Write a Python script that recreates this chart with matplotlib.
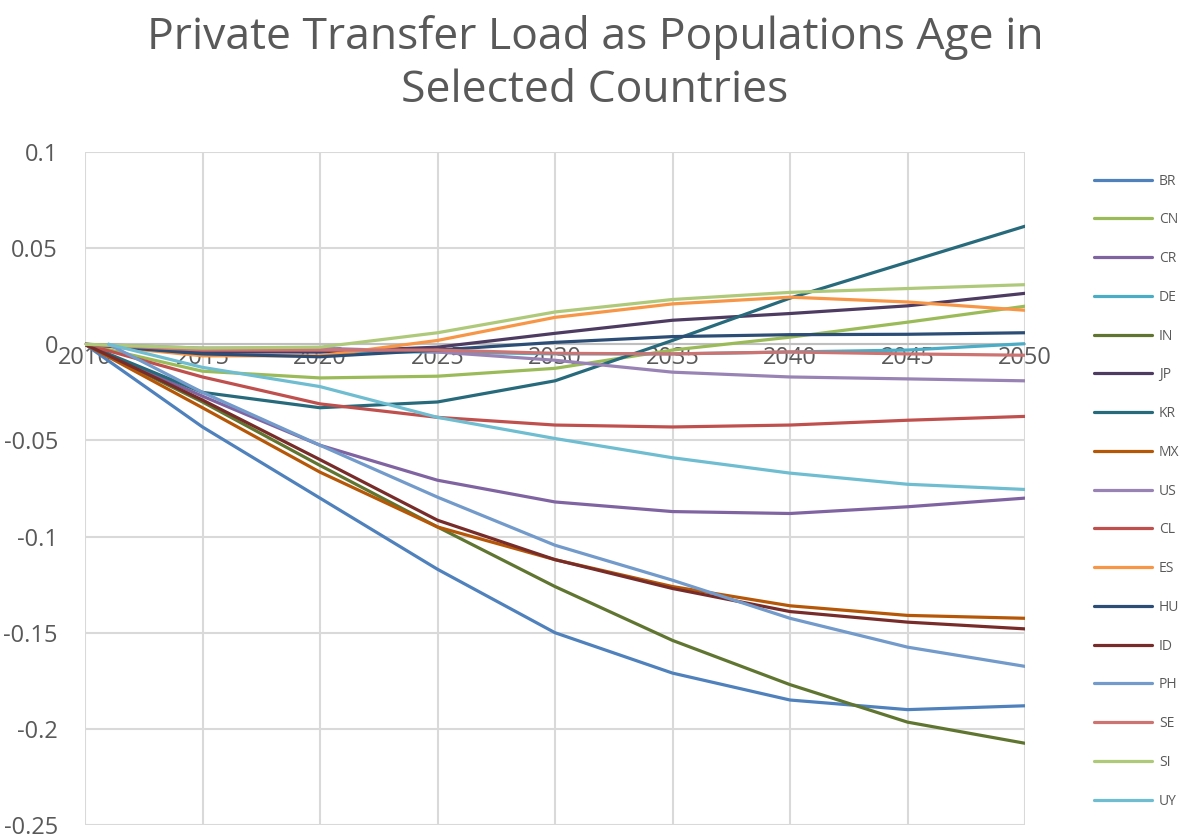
import numpy as np
import matplotlib
matplotlib.use("Agg")
import matplotlib.pyplot as plt

years = [2010, 2011, 2015, 2020, 2025, 2030, 2035, 2040, 2045, 2050]
nan = np.nan

countries = ["BR", "CN", "CR", "DE", "IN", "JP", "KR", "MX", "US",
             "CL", "ES", "HU", "ID", "PH", "SE", "SI", "UY"]

BR = [0, nan, -0.043, -0.080, -0.117, -0.150, -0.171, -0.185, -0.190, -0.188]
CN = [0, nan, -0.014, -0.0175, -0.0166, -0.0125, -0.003, 0.0037, 0.0115, 0.0198]
CR = [0, nan, -0.027, -0.0525, -0.0707, -0.082, -0.087, -0.088, -0.0845, -0.080]
DE = [0, nan, -0.003, -0.004, -0.004, -0.005, -0.005, -0.004, -0.003, 0.0003]
IN = [0, nan, -0.030, -0.063, -0.095, -0.126, -0.154, -0.177, -0.1965, -0.2075]
JP = [0, nan, -0.004, -0.004, -0.0015, 0.0057, 0.0125, 0.016, 0.020, 0.0265]
KR = [0, nan, -0.025, -0.033, -0.030, -0.019, 0.002, 0.024, 0.0427, 0.0614]
MX = [0, nan, -0.033, -0.0665, -0.095, -0.112, -0.126, -0.136, -0.141, -0.1425]
US = [0, nan, -0.002, -0.002, -0.004, -0.0083, -0.0145, -0.017, -0.018, -0.019]
CL = [0, nan, -0.017, -0.031, -0.038, -0.042, -0.043, -0.042, -0.0395, -0.0375]
ES = [0, nan, -0.006, -0.006, 0.002, 0.014, 0.021, 0.0245, 0.022, 0.0177]
HU = [0, nan, -0.005, -0.0065, -0.003, 0.001, 0.004, 0.005, 0.0052, 0.006]
ID = [0, nan, -0.029, -0.060, -0.0915, -0.112, -0.127, -0.139, -0.1445, -0.148]
PH = [nan, 0, -0.025, -0.0525, -0.0795, -0.1045, -0.1227, -0.1425, -0.1575, -0.1675]
SE = [0, nan, -0.003, -0.003, -0.003, -0.0047, -0.005, -0.004, -0.005, -0.0057]
SI = [0, nan, -0.002, -0.0015, 0.006, 0.0168, 0.0233, 0.027, 0.029, 0.031]
UY = [nan, 0, -0.012, -0.022, -0.038, -0.049, -0.059, -0.067, -0.0728, -0.0755]

series = [BR, CN, CR, DE, IN, JP, KR, MX, US, CL, ES, HU, ID, PH, SE, SI, UY]
colors = ["#4F81BD", "#9BBB59", "#8064A2", "#4BACC6", "#5F7530", "#4D3B62",
          "#276A7C", "#B65708", "#9983B5", "#C0504D", "#F79646", "#2C4D75",
          "#772C2A", "#729ACA", "#CD7371", "#AFC97A", "#6FBDD1"]

plt.rcParams['font.family'] = ['Open Sans', 'DejaVu Sans']

fig = plt.figure(figsize=(11.81, 8.35), dpi=100)
ax = fig.add_axes([85/1181, 1 - 825/835, (1025 - 85)/1181, (825 - 152)/835])

yrs = np.array(years, dtype=float)
for name, vals, c in zip(countries, series, colors):
    v = np.array(vals, dtype=float)
    m = ~np.isnan(v)
    ax.plot(yrs[m], v[m], color=c, lw=2.3, label=name, solid_capstyle='round')

ax.set_xlim(2010, 2050)
ax.set_ylim(-0.25, 0.1)
ax.set_xticks(range(2010, 2051, 5))
ax.set_yticks([0.1, 0.05, 0, -0.05, -0.1, -0.15, -0.2, -0.25])
ax.set_yticklabels(["0.1", "0.05", "0", "-0.05", "-0.1", "-0.15", "-0.2", "-0.25"])
ax.grid(True, color="#D9D9D9", lw=1.5)
ax.set_axisbelow(True)
for s in ["top", "right", "left"]:
    ax.spines[s].set_visible(False)
ax.spines["bottom"].set_position(("data", 0))
ax.spines["bottom"].set_color("#BFBFBF")
ax.spines["bottom"].set_linewidth(1.5)
ax.spines["bottom"].set_zorder(1)
ax.tick_params(axis="both", length=0, labelsize=17, colors="#595959")
ax.tick_params(axis="x", pad=1)
ax.tick_params(axis="y", pad=19.5)

fig.text(595/1181, 1 - 64/835, "Private Transfer Load as Populations Age in\nSelected Countries",
         ha="center", va="center", fontsize=32, color="#595959", linespacing=1.25)

leg = fig.legend(loc="upper left", bbox_to_anchor=(1088/1181, 1 - 168/835),
                 frameon=False, fontsize=10, labelspacing=1.71, handlelength=4.2,
                 handletextpad=0.5, borderaxespad=0)
for t in leg.get_texts():
    t.set_color("#595959")

fig.savefig("out.png", dpi=100)
